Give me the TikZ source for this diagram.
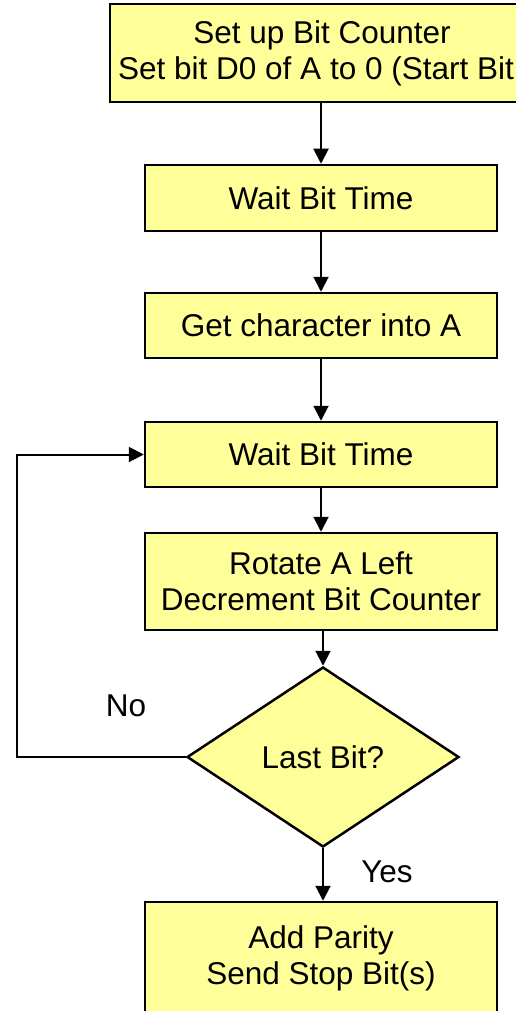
\documentclass[tikz,border=0pt]{standalone}
\usepackage{fontspec}
\setmainfont{Liberation Sans}
\usetikzlibrary{arrows.meta,shapes.geometric}
\definecolor{boxfill}{RGB}{255,255,153}
\begin{document}
\begin{tikzpicture}[x=1pt,y=-1pt,
  every node/.style={font=\fontsize{31.5}{36}\selectfont},
  procbox/.style={draw=black,line width=2.5pt,fill=boxfill,rectangle,inner sep=0pt,minimum width=352pt,align=center},
  decbox/.style={draw=black,line width=2.5pt,fill=boxfill,diamond,inner sep=0pt,minimum width=272pt,minimum height=180pt,aspect=1.5},
  flow/.style={line width=2pt,-{Triangle[length=15pt,width=15pt]}},
  lbl/.style={inner sep=0pt,align=center}]
\clip (0,0) rectangle (516,1011);
\fill[white] (0,0) rectangle (516,1011);
\node[procbox,minimum width=424pt,minimum height=98pt] (setup) at (322,53) {Set up Bit Counter\\\hspace*{-12pt}Set bit D0 of A to 0 (Start Bit};
\node[procbox,minimum height=66pt] (wait1) at (321,198) {Wait Bit Time};
\node[procbox,minimum height=65pt] (getch) at (321,325.5) {Get character into A};
\node[procbox,minimum height=65pt] (wait2) at (321,454.5) {Wait Bit Time};
\node[procbox,minimum height=97pt] (rot) at (321,581.5) {Rotate A Left\\Decrement Bit Counter};
\node[decbox] (last) at (323,757) {Last Bit?};
\node[procbox,minimum height=130pt] (parity) at (321,967) {};
\node[lbl] (ptext) at (321,958) {Add Parity\\Send Stop Bit(s)};
\coordinate (loopL) at (17,757);
\coordinate (loopT) at (17,454.5);
\draw[flow] (setup.south -| wait1.north) -- (wait1.north);
\draw[flow] (wait1) -- (getch);
\draw[flow] (getch) -- (wait2);
\draw[flow] (wait2) -- (rot);
\draw[flow] (rot.south -| last.north) -- (last.north);
\draw[flow] (last.west) -- (loopL) -- (loopT) -- (wait2.west);
\draw[flow] (last.south) -- (last.south |- parity.north);
\node[lbl] (no) at (126,706) {No};
\node[lbl] (yes) at (387,872) {Yes};
\end{tikzpicture}
\end{document}
